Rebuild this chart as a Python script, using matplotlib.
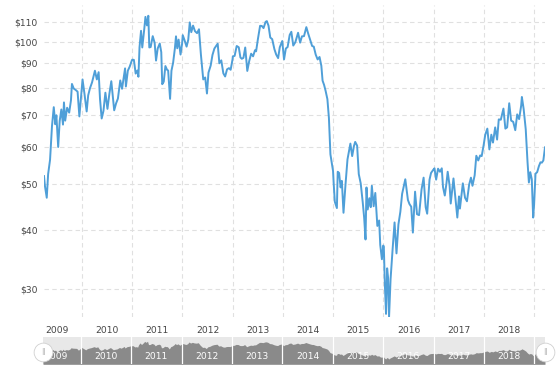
import numpy as np
import pandas as pd
import matplotlib
matplotlib.use('Agg')
import matplotlib.pyplot as plt
import matplotlib.dates as mdates

# WTI crude, price (USD per barrel)
dates = [
    '2009-04-01', '2009-04-08', '2009-04-21', '2009-05-01', '2009-05-15', '2009-05-29', '2009-06-11', '2009-06-22',
    '2009-06-30', '2009-07-13', '2009-07-24', '2009-08-05', '2009-08-17', '2009-08-24', '2009-09-02', '2009-09-16',
    '2009-10-01', '2009-10-14', '2009-10-21', '2009-11-03', '2009-11-16', '2009-12-01', '2009-12-14', '2009-12-31',
    '2010-01-06', '2010-01-20', '2010-02-05', '2010-02-16', '2010-03-01', '2010-03-16', '2010-04-06', '2010-04-20',
    '2010-05-03', '2010-05-13', '2010-05-25', '2010-06-07', '2010-06-21', '2010-07-06', '2010-07-20', '2010-08-03',
    '2010-08-24', '2010-09-07', '2010-09-20', '2010-10-07', '2010-10-20', '2010-11-11', '2010-11-17', '2010-12-01',
    '2010-12-15', '2010-12-31',
    '2011-01-03', '2011-01-14', '2011-01-27', '2011-02-08', '2011-02-16', '2011-02-24', '2011-03-07', '2011-03-16',
    '2011-03-31', '2011-04-08', '2011-04-19', '2011-04-29', '2011-05-06', '2011-05-16', '2011-05-31', '2011-06-14',
    '2011-06-24', '2011-07-06', '2011-07-21', '2011-08-01', '2011-08-08', '2011-08-19', '2011-08-31', '2011-09-12',
    '2011-09-20', '2011-10-04', '2011-10-14', '2011-10-26', '2011-11-08', '2011-11-16', '2011-11-25', '2011-12-05',
    '2011-12-19', '2011-12-30',
    '2012-01-04', '2012-01-17', '2012-02-01', '2012-02-13', '2012-02-24', '2012-03-06', '2012-03-19', '2012-04-02',
    '2012-04-17', '2012-05-01', '2012-05-15', '2012-06-01', '2012-06-15', '2012-06-28', '2012-07-09', '2012-07-25',
    '2012-08-07', '2012-08-21', '2012-09-14', '2012-09-26', '2012-10-10', '2012-10-25', '2012-11-07', '2012-11-21',
    '2012-12-05', '2012-12-17', '2012-12-31',
    '2013-01-02', '2013-01-15', '2013-01-30', '2013-02-14', '2013-02-26', '2013-03-08', '2013-03-20', '2013-04-02',
    '2013-04-17', '2013-05-01', '2013-05-15', '2013-05-29', '2013-06-12', '2013-06-20', '2013-07-03', '2013-07-19',
    '2013-08-01', '2013-08-13', '2013-08-28', '2013-09-06', '2013-09-18', '2013-10-01', '2013-10-15', '2013-10-31',
    '2013-11-13', '2013-11-27', '2013-12-09', '2013-12-27',
    '2014-01-09', '2014-01-22', '2014-02-04', '2014-02-19', '2014-03-03', '2014-03-17', '2014-04-01', '2014-04-21',
    '2014-05-06', '2014-05-19', '2014-06-03', '2014-06-20', '2014-07-03', '2014-07-16', '2014-08-01', '2014-08-13',
    '2014-08-27', '2014-09-10', '2014-09-24', '2014-10-07', '2014-10-16', '2014-10-27', '2014-11-07', '2014-11-20',
    '2014-12-01', '2014-12-12', '2014-12-22', '2014-12-31',
    '2015-01-05', '2015-01-13', '2015-01-28', '2015-02-03', '2015-02-13', '2015-02-24', '2015-03-05', '2015-03-17',
    '2015-04-01', '2015-04-15', '2015-05-06', '2015-05-19', '2015-06-01', '2015-06-10', '2015-06-24', '2015-07-06',
    '2015-07-20', '2015-08-04', '2015-08-14', '2015-08-24', '2015-08-31', '2015-09-09', '2015-09-21', '2015-10-01',
    '2015-10-09', '2015-10-22', '2015-11-03', '2015-11-18', '2015-12-01', '2015-12-09', '2015-12-21', '2015-12-31',
    '2016-01-04', '2016-01-12', '2016-01-20', '2016-01-28', '2016-02-04', '2016-02-11', '2016-02-22', '2016-03-08',
    '2016-03-22', '2016-04-05', '2016-04-19', '2016-05-03', '2016-05-16', '2016-06-08', '2016-06-27', '2016-07-08',
    '2016-07-21', '2016-08-02', '2016-08-18', '2016-09-01', '2016-09-16', '2016-10-04', '2016-10-19', '2016-11-03',
    '2016-11-14', '2016-12-01', '2016-12-12', '2016-12-30',
    '2017-01-06', '2017-01-18', '2017-02-01', '2017-02-15', '2017-02-28', '2017-03-09', '2017-03-22', '2017-04-03',
    '2017-04-12', '2017-04-26', '2017-05-04', '2017-05-24', '2017-06-05', '2017-06-21', '2017-07-03', '2017-07-10',
    '2017-07-31', '2017-08-16', '2017-08-30', '2017-09-15', '2017-09-28', '2017-10-09', '2017-10-25', '2017-11-06',
    '2017-11-20', '2017-12-04', '2017-12-15', '2017-12-29',
    '2018-01-10', '2018-01-25', '2018-02-09', '2018-02-23', '2018-03-07', '2018-03-23', '2018-04-06', '2018-04-18',
    '2018-05-03', '2018-05-22', '2018-06-05', '2018-06-18', '2018-07-03', '2018-07-17', '2018-08-01', '2018-08-16',
    '2018-08-30', '2018-09-13', '2018-09-28', '2018-10-03', '2018-10-16', '2018-10-31', '2018-11-13', '2018-11-23',
    '2018-12-03', '2018-12-14', '2018-12-24', '2018-12-31',
    '2019-01-10', '2019-01-22', '2019-02-04', '2019-02-15', '2019-02-25', '2019-03-08', '2019-03-20',
]
prices = [
    52.0, 49.5, 46.8, 52.5, 56.3, 66.3, 72.7, 66.9,
    69.9, 59.9, 68.0, 71.9, 66.8, 74.4, 68.1, 72.5,
    70.8, 75.2, 81.4, 79.6, 79.1, 78.4, 69.5, 79.4,
    83.2, 77.6, 71.2, 77.0, 79.7, 82.0, 86.8, 83.2,
    86.2, 75.6, 68.8, 71.4, 78.0, 72.1, 77.6, 82.5,
    71.6, 74.1, 75.8, 82.8, 79.5, 87.8, 80.4, 86.8,
    88.6, 91.4,
    91.6, 91.5, 85.6, 86.9, 84.3, 97.3, 105.4, 97.2,
    106.7, 112.8, 108.2, 113.4, 97.2, 97.4, 102.7, 99.4,
    91.2, 96.7, 99.1, 95.0, 81.3, 82.3, 88.8, 87.2,
    86.9, 75.7, 86.8, 90.2, 96.8, 102.6, 96.8, 101.0,
    93.9, 98.8,
    103.2, 100.7, 97.6, 100.9, 109.8, 104.7, 108.1, 105.2,
    104.2, 106.2, 93.9, 83.2, 84.0, 77.7, 86.0, 89.0,
    93.7, 96.7, 99.0, 90.0, 91.3, 85.7, 84.4, 87.4,
    87.9, 87.2, 91.8,
    93.1, 93.3, 97.9, 97.3, 92.6, 92.0, 92.4, 97.2,
    86.7, 91.0, 94.3, 93.1, 95.9, 95.4, 101.2, 108.0,
    107.9, 106.8, 110.1, 110.5, 108.1, 102.0, 101.2, 96.4,
    93.9, 92.3, 97.3, 100.3,
    91.7, 96.7, 97.4, 103.3, 104.9, 98.1, 99.7, 104.4,
    99.5, 102.6, 102.7, 107.3, 104.1, 101.2, 97.9, 97.6,
    93.9, 91.7, 92.8, 88.9, 82.7, 81.0, 78.7, 75.6,
    69.0, 57.8, 55.3, 53.3,
    50.0, 45.9, 44.5, 53.1, 52.8, 49.2, 50.8, 43.5,
    50.1, 56.4, 60.9, 57.3, 60.2, 61.4, 60.3, 52.5,
    50.2, 45.7, 42.5, 38.2, 49.2, 44.2, 46.7, 44.7,
    49.6, 44.9, 47.9, 40.8, 41.9, 37.2, 34.7, 37.1,
    36.8, 30.4, 26.6, 33.2, 31.7, 26.2, 31.5, 36.5,
    41.5, 35.7, 41.1, 43.7, 47.7, 51.2, 46.3, 45.4,
    44.8, 39.5, 48.2, 43.2, 43.0, 48.7, 51.6, 44.7,
    43.3, 51.1, 52.8, 53.7,
    54.0, 51.1, 53.9, 53.1, 54.0, 49.3, 47.3, 50.2,
    53.1, 49.6, 45.5, 51.4, 47.4, 42.5, 47.1, 44.4,
    50.2, 46.8, 46.0, 49.9, 51.6, 49.6, 52.2, 57.4,
    56.1, 57.5, 57.3, 60.4,
    63.6, 65.5, 59.2, 63.6, 61.2, 65.9, 62.1, 68.5,
    68.4, 72.2, 65.5, 65.9, 74.1, 68.1, 67.7, 65.0,
    70.2, 68.6, 73.3, 76.4, 72.0, 65.3, 55.7, 50.4,
    53.0, 51.2, 42.5, 45.4,
    52.6, 53.0, 54.6, 55.6, 55.5, 56.1, 59.8,
]
years = list(range(2009, 2019))
y_ticks = [30, 40, 50, 60, 70, 80, 90, 100, 110]

x = pd.to_datetime(dates)
line_color = '#4f9fd8'
grid_color = '#e0e0e0'

fig = plt.figure(figsize=(5.6, 3.74), dpi=100)
W, H = 560, 374

ax = fig.add_axes([44 / W, 1 - 317 / H, (545 - 44) / W, (317 - 5) / H])
ax.plot(x, prices, color=line_color, lw=1.4, solid_joinstyle='round')
ax.set_yscale('log')
ax.set_ylim(26.2, 119.5)
ax.set_xlim(x[0], x[-1])

ax.yaxis.set_major_locator(matplotlib.ticker.FixedLocator(y_ticks))
ax.yaxis.set_minor_locator(matplotlib.ticker.NullLocator())
ax.set_yticklabels(['$%d' % v for v in y_ticks])

# year starts carry the grid, labels sit mid-year
ax.set_xticks([pd.Timestamp('%d-01-01' % y) for y in range(2010, 2020)], minor=True)
ax.set_xticks([pd.Timestamp('%d-07-02' % y) for y in years])
ax.set_xticklabels([str(y) for y in years])

ax.grid(True, axis='y', which='major', color=grid_color, ls=(0, (4, 3)), lw=0.8)
ax.grid(True, axis='x', which='minor', color=grid_color, ls=(0, (4, 3)), lw=0.8)
ax.tick_params(axis='both', which='both', length=0, labelsize=6.6, colors='#444444')
ax.tick_params(axis='x', pad=6.5)
ax.tick_params(axis='y', pad=4.5)
for s in ax.spines.values():
    s.set_visible(False)

# navigator strip
nav = fig.add_axes([43 / W, 1 - 363.5 / H, (545 - 43) / W, 26.8 / H])
nav.set_facecolor('#e8e8e8')
nav.fill_between(x, prices, 0, color='#8a8a8a', lw=0)
nav.set_ylim(4, 136)
nav.set_xlim(x[0], x[-1])
for y in range(2010, 2020):
    nav.axvline(pd.Timestamp('%d-01-01' % y), color='white', lw=0.9)
for y in years:
    nav.text(pd.Timestamp('%d-07-02' % y), 0.27, str(y), transform=nav.get_xaxis_transform(),
             ha='center', va='center', fontsize=6.6, color='white', clip_on=True)
nav.set_xticks([])
nav.set_yticks([])
for s in nav.spines.values():
    s.set_visible(False)

# navigator handles
for hx in (43, 545):
    fig.lines.append(plt.Line2D([hx / W], [1 - 351.5 / H], marker='o', markersize=13.5,
                                mfc='white', mec='#d0d0d0', mew=0.6, transform=fig.transFigure))
    fig.text(hx / W, 1 - 351.5 / H, '||', ha='center', va='center', fontsize=5, color='#aaaaaa')

fig.savefig('out.png', dpi=100)
